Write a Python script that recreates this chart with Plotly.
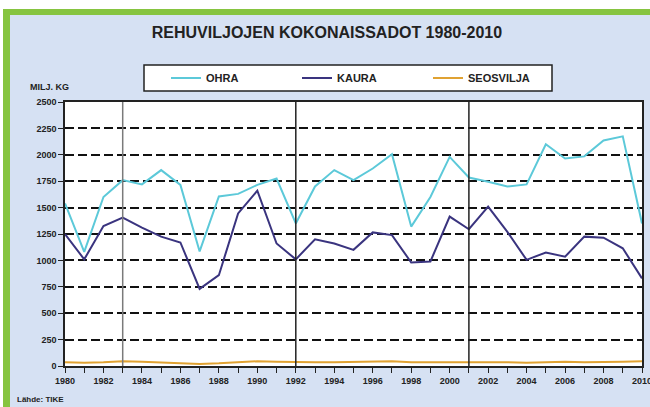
import plotly.graph_objects as go

years = list(range(1980, 2011))
ohra = [1540, 1080, 1600, 1760, 1720, 1855, 1715, 1085, 1605, 1630, 1715, 1775, 1350, 1700, 1855,
        1760, 1870, 2005, 1320, 1600, 1980, 1785, 1745, 1700, 1720, 2100, 1965, 1985, 2135, 2175, 1350]
kaura = [1250, 1010, 1325, 1405, 1310, 1225, 1170, 730, 860, 1445, 1660, 1160, 1010, 1200, 1160,
         1100, 1265, 1240, 980, 990, 1415, 1295, 1510, 1270, 1005, 1075, 1035, 1225, 1215, 1115, 830]
seosvilja = [35, 30, 35, 45, 40, 35, 30, 20, 25, 35, 45, 40, 35, 35, 35,
             40, 40, 45, 35, 35, 40, 40, 35, 35, 30, 35, 40, 35, 35, 40, 45]
series_names = ["OHRA", "KAURA", "SEOSVILJA"]
series_colors = ["#5cc9d9", "#3a347f", "#e0a232"]
y_ticks = list(range(0, 2501, 250))
x_ticks = list(range(1980, 2011, 2))
divider_years = [1983, 1992, 2001]
divider_colors = ["#7a7a7a", "#222222", "#222222"]

FONT = "Liberation Sans Narrow, Arial Narrow, Liberation Sans, Arial, sans-serif"

fig = go.Figure()
for name, vals, col in zip(series_names, [ohra, kaura, seosvilja], series_colors):
    fig.add_trace(go.Scatter(x=years, y=vals, mode="lines", name=name,
                             line=dict(color=col, width=2)))

# plot area pixel geometry: left 65, right 642, top 102, bottom 366
W, H = 650, 407
L, R, T, B = 65, 642, 102, 366
def px(x):
    return (x - L) / (R - L)
def py(y):
    return (B - y) / (B - T)

shapes = []
for yr, c in zip(divider_years, divider_colors):
    shapes.append(dict(type="line", xref="x", yref="paper", x0=yr, x1=yr, y0=0, y1=1,
                       line=dict(color=c, width=1.5), layer="above"))
# white strips and green frame
shapes.append(dict(type="rect", xref="paper", yref="paper", x0=px(-5), x1=px(660), y0=py(9), y1=py(-5),
                   fillcolor="white", line=dict(width=0), layer="above"))
shapes.append(dict(type="rect", xref="paper", yref="paper", x0=px(-5), x1=px(3), y0=py(415), y1=py(-5),
                   fillcolor="white", line=dict(width=0), layer="above"))
shapes.append(dict(type="rect", xref="paper", yref="paper", x0=px(3), x1=px(660), y0=py(15), y1=py(9),
                   fillcolor="#86c440", line=dict(width=0), layer="above"))
shapes.append(dict(type="rect", xref="paper", yref="paper", x0=px(3), x1=px(10), y0=py(415), y1=py(9),
                   fillcolor="#86c440", line=dict(width=0), layer="above"))
# legend frame
shapes.append(dict(type="rect", xref="paper", yref="paper", x0=px(144), x1=px(552), y0=py(91), y1=py(65),
                   fillcolor="white", line=dict(color="#222", width=1.5), layer="above"))

annotations = [
    dict(text="<b>MILJ. KG</b>", xref="paper", yref="paper", x=px(28), y=py(87),
         xanchor="left", yanchor="middle", showarrow=False,
         font=dict(family=FONT, size=9, color="#222")),
    dict(text="<b>Lähde: TIKE</b>", xref="paper", yref="paper", x=px(15), y=py(399),
         xanchor="left", yanchor="middle", showarrow=False,
         font=dict(family=FONT, size=8, color="#222")),
]

fig.update_layout(
    width=W, height=H,
    margin=dict(l=L, r=W - R, t=T, b=H - B, autoexpand=False),
    paper_bgcolor="#d6e1f3",
    plot_bgcolor="white",
    title=dict(text="<b>REHUVILJOJEN KOKONAISSADOT 1980-2010</b>", x=0.503, xanchor="center",
               y=1 - 32 / H, yanchor="middle", xref="container", yref="container",
               font=dict(family=FONT, size=16, color="#222")),
    legend=dict(orientation="h", x=px(166), y=py(78), xanchor="left", yanchor="middle",
                bgcolor="rgba(0,0,0,0)", borderwidth=0,
                font=dict(family=FONT, size=11, color="#222", weight="bold"),
                entrywidth=86, entrywidthmode="pixels", itemwidth=30),
    showlegend=True,
    shapes=shapes,
    annotations=annotations,
    xaxis=dict(range=[1980, 2010], tickvals=x_ticks, ticktext=[str(v) for v in x_ticks],
               showgrid=False, ticks="outside", ticklen=5, tickcolor="#222",
               ticklabeloverflow="allow",
               minor=dict(dtick=1, ticks="outside", ticklen=5, tickcolor="#222", showgrid=False),
               showline=True, linecolor="#222", linewidth=1.5, mirror=True,
               tickfont=dict(family=FONT, size=9, color="#222", weight="bold"), zeroline=False),
    yaxis=dict(range=[0, 2500], tickvals=y_ticks, showgrid=True, gridcolor="#111",
               gridwidth=1.5, griddash="9px,4px",
               ticks="outside", ticklen=5, tickcolor="#222",
               showline=True, linecolor="#222", linewidth=1.5, mirror=True,
               tickfont=dict(family=FONT, size=9, color="#222", weight="bold"), zeroline=False),
)

fig.write_html("out.html", config={"displayModeBar": False},
               post_script="document.body.style.margin='0';document.body.style.padding='0';")
